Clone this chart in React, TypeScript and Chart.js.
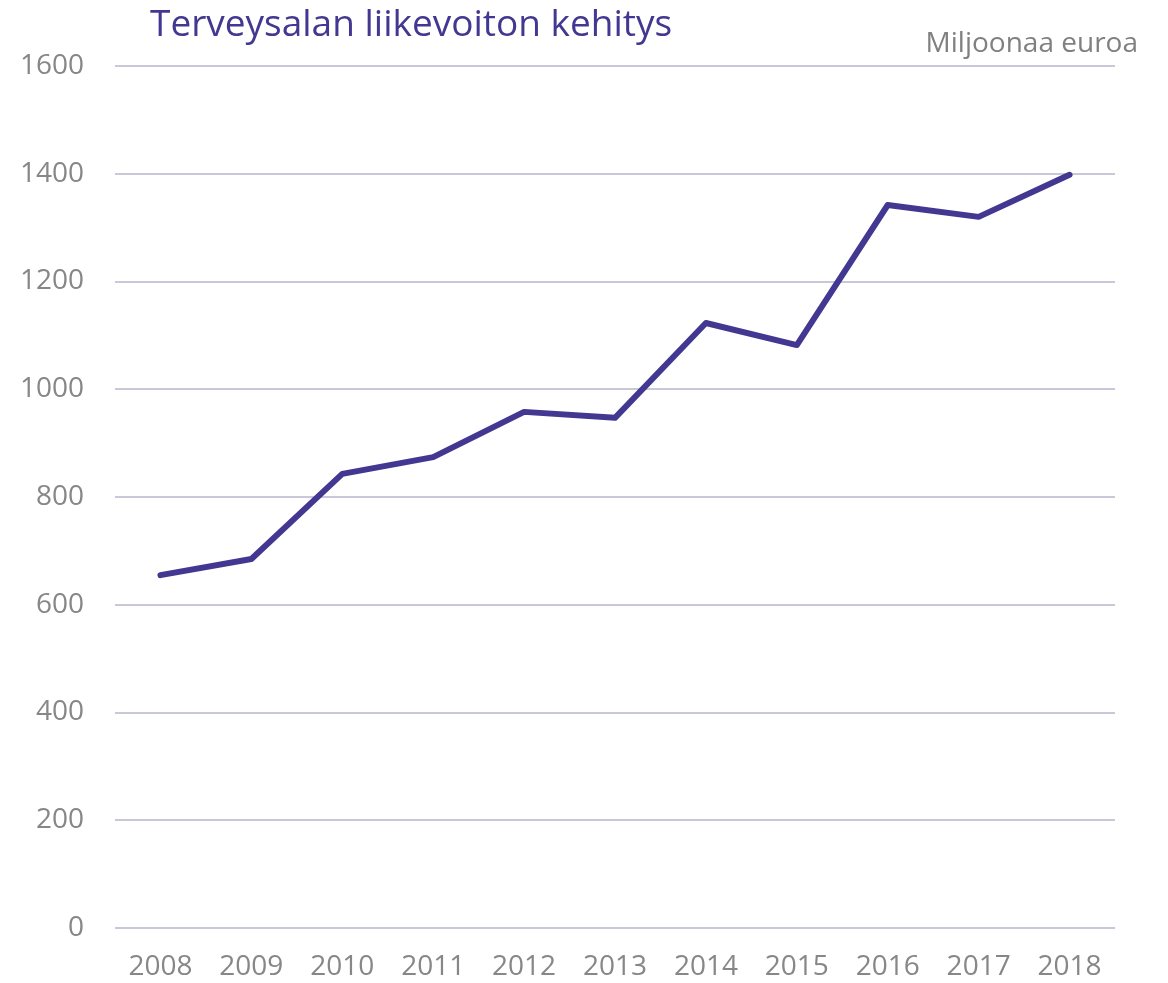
import React, { useEffect, useRef } from "react";
import { Chart, registerables } from "chart.js";

Chart.register(...registerables);

const years = ["2008", "2009", "2010", "2011", "2012", "2013", "2014", "2015", "2016", "2017", "2018"];
const profit = [655, 685, 843, 874, 958, 947, 1123, 1082, 1342, 1320, 1398];
const yTicks = [0, 200, 400, 600, 800, 1000, 1200, 1400, 1600];
const titleText = "Terveysalan liikevoiton kehitys";
const unitText = "Miljoonaa euroa";

const textPlugin = {
  id: "textPlugin",
  afterDraw(chart: any) {
    const ctx = chart.ctx;
    ctx.save();
    ctx.textBaseline = "alphabetic";
    ctx.fillStyle = "#433891";
    ctx.font = "37px 'Open Sans'";
    ctx.textAlign = "left";
    ctx.fillText(titleText, 150, 36);
    ctx.fillStyle = "#808080";
    ctx.font = "28px 'Open Sans'";
    ctx.textAlign = "right";
    ctx.fillText(unitText, 1138, 52);
    ctx.restore();
  },
};

export default function App() {
  const ref = useRef<HTMLCanvasElement | null>(null);
  useEffect(() => {
    if (!ref.current) return;
    const chart = new Chart(ref.current, {
      type: "line",
      data: {
        labels: years,
        datasets: [
          {
            data: profit,
            borderColor: "#433891",
            borderWidth: 6,
            pointRadius: 0,
            tension: 0,
            fill: false,
            borderCapStyle: "round",
            borderJoinStyle: "round",
          },
        ],
      },
      options: {
        animation: false,
        responsive: false,
        layout: { padding: { top: 66, right: 53, left: 0, bottom: 0 } },
        plugins: { legend: { display: false }, tooltip: { enabled: false }, title: { display: false } },
        scales: {
          x: {
            offset: true,
            grid: { display: false, drawTicks: false },
            border: { display: false },
            ticks: { color: "#878787", font: { family: "'Open Sans'", size: 28 }, padding: 22, maxRotation: 0 },
            afterFit: (s: any) => { s.height = 55; },
          },
          y: {
            min: 0,
            max: 1600,
            afterBuildTicks: (s: any) => { s.ticks = yTicks.map((v) => ({ value: v })); },
            grid: { color: "#c9c7da", lineWidth: 2, drawTicks: false },
            border: { display: false },
            ticks: {
              color: "#878787",
              font: { family: "'Open Sans'", size: 28 },
              padding: 31,
              callback: (v: any) => String(v),
            },
            afterFit: (s: any) => { s.width = 115; },
          },
        },
      },
      plugins: [textPlugin],
    });
    return () => chart.destroy();
  }, []);
  return (
    <div style={{ position: "absolute", left: 0, top: 0, width: 1168, height: 983, background: "#fff" }}>
      <canvas ref={ref} width={1168} height={983} style={{ width: 1168, height: 983 }} />
    </div>
  );
}
